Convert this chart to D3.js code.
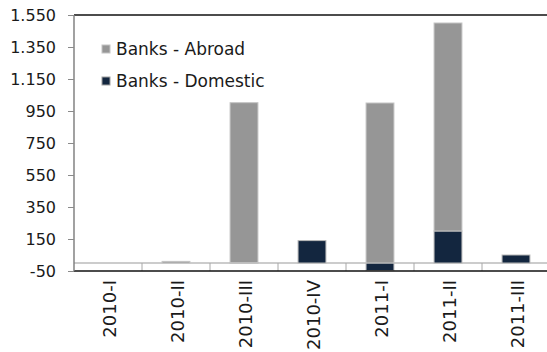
<!DOCTYPE html>
<html>
<head>
<meta charset="utf-8">
<script src="https://cdn.jsdelivr.net/npm/d3@7/dist/d3.min.js"></script>
<style>
  html, body { margin: 0; padding: 0; background: #fff; }
  svg { display: block; font-family: "DejaVu Sans", sans-serif; }
</style>
</head>
<body>
<svg id="chart" width="547" height="352"></svg>
<script>
// Quarterly bank flows
const categories = ["2010-I", "2010-II", "2010-III", "2010-IV", "2011-I", "2011-II", "2011-III"];
const abroad   = [0, 10, 1000, 0, 1000, 1300, 0];
const domestic = [0, 0, 2, 140, -47, 200, 50];
const yTicks = [-50, 150, 350, 550, 750, 950, 1150, 1350, 1550];

const seriesNames = ["Banks - Abroad", "Banks - Domestic"];
const colors = { abroad: "#969696", domestic: "#13263f" };

const svg = d3.select("#chart");
const plotLeft = 74, plotRight = 550, plotTop = 15, plotBottom = 271;

const x = d3.scaleBand().domain(categories).range([plotLeft, plotRight]).paddingInner(0).paddingOuter(0);
const y = d3.scaleLinear().domain([-50, 1550]).range([plotBottom, plotTop]);

// thousands separated by "." and a plain hyphen for negatives
const fmt = v => d3.format(",")(v).replace(/,/g, ".").replace("\u2212", "-");

// bars: domestic at the base (or below zero), abroad stacked on top
const barW = x.bandwidth() * 0.41;
const rows = categories.map((c, i) => {
  const d = domestic[i], a = abroad[i];
  const dPos = Math.max(d, 0);
  return { c, d, a, dPos };
});

const g = svg.append("g");

// zero line
g.append("line")
  .attr("x1", plotLeft).attr("x2", plotRight)
  .attr("y1", y(0)).attr("y2", y(0))
  .attr("stroke", "#9a9a9a").attr("stroke-width", 1.2);

// category separators between zero line and the bottom frame
g.selectAll("line.sep").data(categories.slice(1)).join("line")
  .attr("class", "sep")
  .attr("x1", d => x(d)).attr("x2", d => x(d))
  .attr("y1", y(0)).attr("y2", plotBottom)
  .attr("stroke", "#a8a8a8").attr("stroke-width", 1);

// domestic bars
g.selectAll("rect.dom").data(rows.filter(r => r.d !== 0)).join("rect")
  .attr("class", "dom")
  .attr("x", r => x(r.c) + (x.bandwidth() - barW) / 2)
  .attr("width", barW)
  .attr("y", r => y(Math.max(r.d, 0)))
  .attr("height", r => Math.abs(y(r.d) - y(0)))
  .attr("fill", colors.domestic)
  .attr("stroke", "#b8b8b8").attr("stroke-width", 1);

// abroad bars
g.selectAll("rect.abr").data(rows.filter(r => r.a !== 0)).join("rect")
  .attr("class", "abr")
  .attr("x", r => x(r.c) + (x.bandwidth() - barW) / 2)
  .attr("width", barW)
  .attr("y", r => y(r.dPos + r.a))
  .attr("height", r => y(r.dPos) - y(r.dPos + r.a))
  .attr("fill", colors.abroad)
  .attr("stroke", "#c4c4c4").attr("stroke-width", 1);

// frame: top and bottom lines
g.append("line")
  .attr("x1", plotLeft).attr("x2", 547)
  .attr("y1", plotTop).attr("y2", plotTop)
  .attr("stroke", "#111").attr("stroke-width", 1.4);
g.append("line")
  .attr("x1", plotLeft).attr("x2", 547)
  .attr("y1", plotBottom).attr("y2", plotBottom)
  .attr("stroke", "#111").attr("stroke-width", 1.4);

// y axis
const yAxis = svg.append("g")
  .attr("transform", `translate(${plotLeft},0)`)
  .call(d3.axisLeft(y).tickValues(yTicks).tickFormat(fmt).tickSize(6).tickPadding(12));
yAxis.select(".domain").attr("stroke", "#7a7a7a").attr("stroke-width", 1.4)
  .attr("d", `M0,${plotTop}V${plotBottom}`);
yAxis.selectAll(".tick line").attr("stroke", "#8a8a8a");
yAxis.selectAll(".tick text")
  .attr("font-size", 16).attr("fill", "#1a1a1a")
  .attr("font-family", "'DejaVu Sans', sans-serif");

// x labels, rotated
svg.append("g").selectAll("text.xl").data(categories).join("text")
  .attr("class", "xl")
  .attr("transform", d => `translate(${x(d) + x.bandwidth() / 2 + 8},280) rotate(-90)`)
  .attr("text-anchor", "end")
  .attr("font-size", 18)
  .attr("fill", "#1a1a1a")
  .text(d => d);

// legend
const legend = svg.append("g");
const legendItems = [
  { name: seriesNames[0], fill: colors.abroad, stroke: "#c4c4c4", y: 49 },
  { name: seriesNames[1], fill: colors.domestic, stroke: "#a0a0a0", y: 81 }
];
legend.selectAll("rect").data(legendItems).join("rect")
  .attr("x", 102).attr("y", d => d.y - 4).attr("width", 8).attr("height", 8)
  .attr("fill", d => d.fill).attr("stroke", d => d.stroke).attr("stroke-width", 1);
legend.selectAll("text").data(legendItems).join("text")
  .attr("x", 116).attr("y", d => d.y + 6)
  .attr("font-size", 17).attr("fill", "#1a1a1a")
  .text(d => d.name);
</script>
</body>
</html>
